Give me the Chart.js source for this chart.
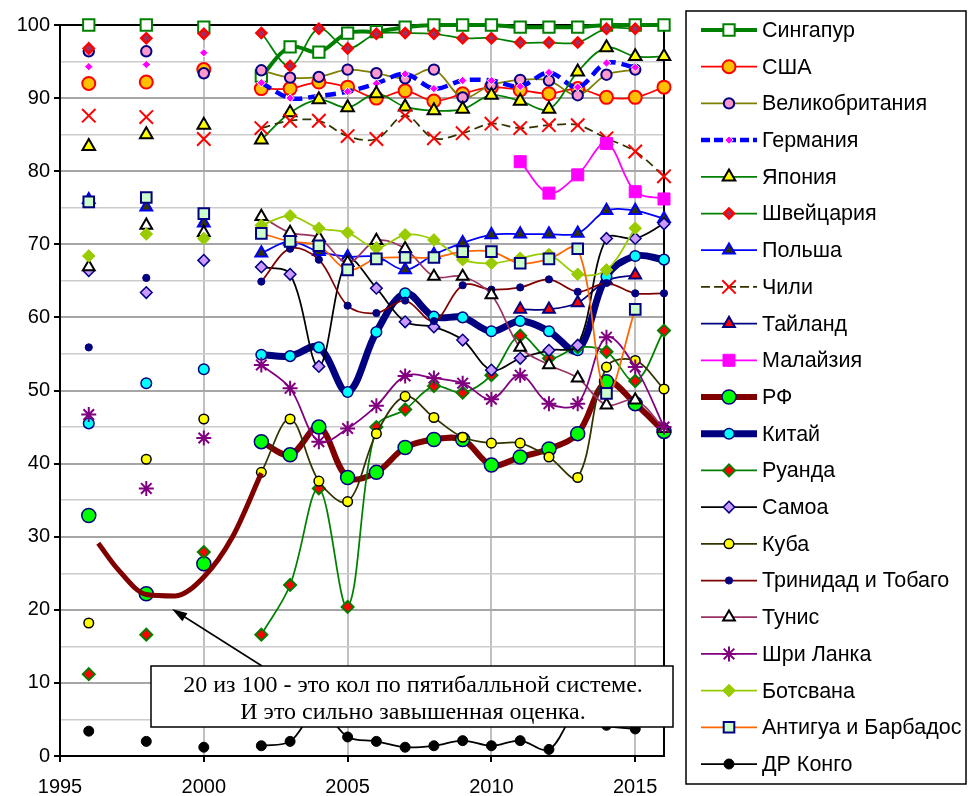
<!DOCTYPE html>
<html>
<head>
<meta charset="utf-8">
<script src="https://cdn.jsdelivr.net/npm/chart.js@4.4.0/dist/chart.umd.min.js"></script>
<style>
  html, body { margin: 0; padding: 0; background: #fff; }
  canvas { display: block; }
</style>
</head>
<body>
<canvas id="chart" width="968" height="796"></canvas>
<script>
// years 1996..2016, gaps in 1997, 1999, 2001
const years = [1996, 1997, 1998, 1999, 2000, 2001, 2002, 2003, 2004, 2005, 2006,
               2007, 2008, 2009, 2010, 2011, 2012, 2013, 2014, 2015, 2016];
const xTicks = [1995, 2000, 2005, 2010, 2015];
const yTicks = [0, 5, 10, 15, 20, 25, 30, 35, 40, 45, 50, 55, 60, 65, 70, 75, 80, 85, 90, 95, 100];

const singapore = [100, null, 100, null, 99.7, null, 93, 97, 96.3, 98.9, 99.1, 99.7, 100, 100, 100, 99.7, 99.7, 99.7, 100, 100, 100];
const usa       = [92, null, 92.2, null, 93.9, null, 91.3, 91.3, 92.2, 91.5, 90, 91, 89.6, 90.6, 91.5, 91.1, 90.6, 91.3, 90.1, 90.1, 91.5];
const uk        = [96.4, null, 96.4, null, 93.4, null, 93.8, 92.8, 92.9, 93.9, 93.4, 92.7, 93.9, 90.1, 91.8, 92.5, 92.4, 90.4, 93.2, 93.9, null];
const germany   = [94.3, null, 94.6, null, 96.2, null, 92.1, 90, 90.3, 90.9, 92, 93.3, 91.3, 92.4, 92.4, 91.6, 93.5, 91.5, 94.8, 94.2, null];
const japan     = [83.4, null, 85, null, 86.3, null, 84.3, 88, 89.8, 88.7, 90.6, 88.8, 88.3, 88.5, 90.4, 89.6, 88.5, 93.6, 96.9, 95.7, 95.7];
const swiss     = [96.8, null, 98.2, null, 98.8, null, 98.9, 94.4, 99.5, 96.8, 98.8, 98.9, 98.8, 98.2, 98.2, 97.6, 97.6, 97.6, 99.5, 99.5, null];
const poland    = [76.1, null, 75.1, null, 72.9, null, 68.8, 70.4, 69, 68.3, 68.3, 66.5, 68.6, 70.2, 71.3, 71.4, 71.4, 71.5, 74.6, 74.6, 73.5];
const chile     = [87.6, null, 87.4, null, 84.4, null, 85.9, 86.9, 86.9, 84.8, 84.4, 87.6, 84.5, 85.2, 86.5, 85.9, 86.3, 86.3, 84.5, 82.7, 79.3];
const thailand  = [null, null, null, null, null, null, null, null, null, null, null, null, null, null, null, 61.1, 61.1, 62, 65, 65.8, null];
const malaysia  = [null, null, null, null, null, null, null, null, null, null, null, null, null, null, null, 81.3, 77, 79.5, 83.8, 77.2, 76.2];
const russia    = [32.9, null, 22.2, null, 26.3, null, 43, 41.2, 45, 38.1, 38.8, 42.2, 43.3, 43.3, 39.8, 40.9, 42, 44.1, 51.2, 48.2, 44.4];
const china     = [45.5, null, 51, null, 52.9, null, 54.9, 54.7, 55.9, 49.8, 58, 63.3, 60.1, 60, 58.1, 59.5, 58.1, 55.5, 65.6, 68.4, 67.9];
const rwanda    = [11.2, null, 16.6, null, 27.9, null, 16.6, 23.4, 36.6, 20.4, 45, 47.4, 50.6, 49.7, 52.1, 57.5, 54.4, 55.9, 55.3, 51.3, 58.2];
const samoa     = [66.4, null, 63.4, null, 67.8, null, 66.9, 65.9, 53.3, 67.9, 64, 59.4, 58.7, 56.9, 52.8, 54.4, 55.5, 56.2, 70.8, 70.8, 72.8];
const cuba      = [18.2, null, 40.6, null, 46.1, null, 38.8, 46.1, 37.6, 34.8, 44.1, 49.2, 46.3, 43.6, 42.8, 42.8, 40.9, 38.1, 53.2, 54.1, 50.2];
const trinidad  = [55.9, null, 65.4, null, null, null, 64.9, 69.4, 67.9, 61.6, 60.6, 62.3, 59.5, 64.4, 63.8, 64.1, 65.2, 63.5, 64.7, 63.3, 63.3];
const tunisia   = [66.9, null, 72.6, null, 71.6, null, 73.8, 71.6, 70.9, 67.5, 70.5, 69.4, 65.6, 65.6, 63.1, 55.9, 53.5, 51.7, 48, 48.7, 44.8];
const srilanka  = [46.7, null, 36.6, null, 43.5, null, 53.5, 50.3, 43, 44.8, 47.9, 52, 51.7, 51, 48.8, 52.1, 48.2, 48.2, 57.3, 53.2, 45];
const botswana  = [68.4, null, 71.4, null, 70.8, null, 72.6, 73.9, 72.2, 71.6, 69.5, 71.3, 70.6, 67.9, 67.4, 68.1, 68.6, 65.9, 66.5, 72.2, null];
const antigua   = [75.8, null, 76.4, null, 74.2, null, 71.5, 70.4, 69.8, 66.5, 68, 68.2, 68.2, 69, 69, 67.4, 68, 69.4, 49.6, 61.1, null];
const congo     = [3.4, null, 2, null, 1.2, null, 1.4, 2, 6.5, 2.6, 2, 1.2, 1.4, 2.1, 1.4, 2.1, 0.9, 6, 4.2, 3.7, null];

// hand drawn RF curve 1996-2002
const trendYears = [1996.33, 1997, 1998, 1999, 2000, 2001, 2002];
const trendVals  = [29.1, 25.6, 22.1, 21.9, 24.5, 30, 38.7];

const FONT = "'Liberation Sans', Arial, sans-serif";

const toXY = arr => years.map((yr, i) => ({ x: yr, y: arr[i] }));

function series(label, data, line, width, style, radius, fill, border, bw, dash) {
    return {
        label: label,
        data: toXY(data),
        borderColor: line,
        borderWidth: width,
        borderDash: dash || [],
        pointStyle: style,
        pointRadius: radius,
        pointBackgroundColor: fill,
        pointBorderColor: border,
        pointBorderWidth: bw,
        tension: 0.35,
        spanGaps: false,
        clip: false,
        fill: false
    };
}

const datasets = [
    series('Сингапур', singapore, '#008000', 4, 'rect', 8, '#ffffff', '#008000', 2),
    series('США', usa, '#ff0000', 1.75, 'circle', 6.5, '#ffc000', '#ff0000', 2),
    series('Великобритания', uk, '#808000', 1.75, 'circle', 5.2, '#ff99cc', '#000080', 2),
    series('Германия', germany, '#0000ff', 4.5, 'rectRot', 4.2, '#ff00ff', '#ffffff', 1, [11, 6]),
    series('Япония', japan, '#008000', 1.75, 'triangle', 7.3, '#ffff00', '#000000', 2),
    series('Швейцария', swiss, '#008000', 1.75, 'rectRot', 5, '#993366', '#ff0000', 2.5),
    series('Польша', poland, '#0000ff', 1.75, 'triangle', 6.8, '#333300', '#0000ff', 2),
    series('Чили', chile, '#333300', 1.75, 'crossRot', 9.5, '#ff0000', '#ff0000', 2, [9, 5]),
    series('Тайланд', thailand, '#000080', 1.75, 'triangle', 6.8, '#ff0000', '#000080', 2),
    series('Малайзия', malaysia, '#ff00ff', 1.75, 'rect', 8.5, '#ff00ff', '#ff00ff', 1),
    series('РФ', russia, '#800000', 6, 'circle', 7, '#00ff00', '#000080', 1.5),
    series('Китай', china, '#000080', 7, 'circle', 5.3, '#00ffff', '#000080', 1.5),
    series('Руанда', rwanda, '#008000', 1.75, 'rectRot', 6, '#ff0000', '#008000', 2),
    series('Самоа', samoa, '#000000', 1.75, 'rectRot', 5.8, '#cc99ff', '#000080', 1.5),
    series('Куба', cuba, '#333300', 1.75, 'circle', 4.8, '#ffff00', '#000000', 1.5),
    series('Тринидад и Тобаго', trinidad, '#800000', 1.75, 'circle', 3.6, '#000080', '#000080', 1),
    series('Тунис', tunisia, '#993366', 1.75, 'triangle', 6.8, '#ffffff', '#000000', 2),
    series('Шри Ланка', srilanka, '#800080', 1.75, 'star', 7.5, '#800080', '#800080', 2),
    series('Ботсвана', botswana, '#99cc00', 1.75, 'rectRot', 6.3, '#99cc00', '#99cc00', 1),
    series('Антигуа и Барбадос', antigua, '#ff6600', 1.75, 'rect', 7.5, '#ccffcc', '#000080', 2),
    series('ДР Конго', congo, '#000000', 1.75, 'circle', 5, '#000000', '#000000', 1)
];

// later series are drawn on top, like in the original
datasets.forEach((d, i) => { d.order = datasets.length - i + 1; });

const trend = {
    label: 'trend',
    data: trendYears.map((yr, i) => ({ x: yr, y: trendVals[i] })),
    borderColor: '#800000',
    borderWidth: 5,
    pointRadius: 0,
    tension: 0.4,
    cubicInterpolationMode: 'monotone',
    clip: false,
    order: 0
};

function drawMarker(ctx, d, x, y) {
    ctx.save();
    ctx.fillStyle = d.pointBackgroundColor;
    ctx.strokeStyle = d.pointBorderColor;
    ctx.lineWidth = d.pointBorderWidth;
    ctx.setLineDash([]);
    Chart.helpers.drawPoint(ctx, {
        pointStyle: d.pointStyle,
        radius: d.pointRadius,
        rotation: 0,
        borderWidth: d.pointBorderWidth
    }, x, y);
    ctx.restore();
}

const framePlugin = {
    id: 'frame',
    beforeDatasetsDraw(chart) {
        const a = chart.chartArea, ctx = chart.ctx;
        ctx.save();
        ctx.strokeStyle = '#000';
        ctx.lineWidth = 2;
        ctx.strokeRect(a.left, a.top, a.right - a.left, a.bottom - a.top);
        ctx.restore();
    }
};

const notePlugin = {
    id: 'note',
    afterDatasetsDraw(chart) {
        const ctx = chart.ctx;
        ctx.save();
        // arrow
        const tx = 172, ty = 609, fx = 262, fy = 666;
        ctx.strokeStyle = '#000';
        ctx.lineWidth = 1.5;
        ctx.beginPath();
        ctx.moveTo(fx, fy);
        ctx.lineTo(tx + 8, ty + 5);
        ctx.stroke();
        const ang = Math.atan2(fy - ty, fx - tx);
        ctx.fillStyle = '#000';
        ctx.beginPath();
        ctx.moveTo(tx, ty);
        ctx.lineTo(tx + 16 * Math.cos(ang - 0.3), ty + 16 * Math.sin(ang - 0.3));
        ctx.lineTo(tx + 16 * Math.cos(ang + 0.3), ty + 16 * Math.sin(ang + 0.3));
        ctx.closePath();
        ctx.fill();
        // box
        ctx.fillStyle = '#fff';
        ctx.fillRect(151, 666, 522, 61);
        ctx.lineWidth = 1.5;
        ctx.strokeRect(151, 666, 522, 61);
        ctx.fillStyle = '#000';
        ctx.font = "24px 'Liberation Serif', 'Times New Roman', serif";
        ctx.textAlign = 'center';
        ctx.textBaseline = 'alphabetic';
        ctx.fillText('20 из 100 - это кол по пятибалльной системе.', 413, 692);
        ctx.fillText('И это сильно завышенная оценка.', 413, 719);
        ctx.restore();
    }
};

const legendPlugin = {
    id: 'sideLegend',
    afterDraw(chart) {
        const ctx = chart.ctx;
        ctx.save();
        ctx.strokeStyle = '#000';
        ctx.lineWidth = 1.5;
        ctx.strokeRect(686, 11, 280, 773);
        ctx.font = '21.5px ' + FONT;
        ctx.textBaseline = 'middle';
        ctx.textAlign = 'left';
        datasets.forEach((d, i) => {
            const y = 30 + i * 36.7;
            ctx.strokeStyle = d.borderColor;
            ctx.lineWidth = d.borderWidth;
            ctx.setLineDash(d.borderDash.length ? [9, 4] : []);
            ctx.beginPath();
            ctx.moveTo(701, y);
            ctx.lineTo(757, y);
            ctx.stroke();
            drawMarker(ctx, d, 729, y);
            ctx.fillStyle = '#000';
            ctx.fillText(d.label, 762, y + 1);
        });
        ctx.restore();
    }
};

new Chart(document.getElementById('chart'), {
    type: 'line',
    data: { datasets: datasets.concat([trend]) },
    options: {
        responsive: false,
        animation: false,
        layout: { padding: { left: 0, top: 25, right: 304, bottom: 0 } },
        plugins: {
            legend: { display: false },
            tooltip: { enabled: false }
        },
        scales: {
            x: {
                type: 'linear',
                min: 1995,
                max: 2016,
                afterBuildTicks: s => { s.ticks = xTicks.map(v => ({ value: v })); },
                afterFit: s => { s.height = 40; },
                grid: {
                    color: c => (c.tick && c.tick.value === 1995) ? 'rgba(0,0,0,0)' : '#c0c0c0',
                    lineWidth: 2,
                    tickColor: '#000',
                    tickLength: 6
                },
                border: { color: '#000', width: 2 },
                ticks: {
                    color: '#000',
                    font: { family: FONT, size: 20 },
                    padding: 13,
                    maxRotation: 0,
                    autoSkip: false,
                    callback: v => String(v)
                }
            },
            y: {
                min: 0,
                max: 100,
                afterBuildTicks: s => { s.ticks = yTicks.map(v => ({ value: v })); },
                afterFit: s => { s.width = 60; },
                grid: {
                    color: c => {
                        const v = c.tick ? c.tick.value : 0;
                        if (v === 0 || v === 100) return 'rgba(0,0,0,0)';
                        return v % 10 === 0 ? '#a6a6a6' : '#cccccc';
                    },
                    lineWidth: c => (c.tick && c.tick.value % 10 === 0) ? 2 : 1.5,
                    tickColor: c => (c.tick && c.tick.value % 10 === 0) ? '#000' : 'rgba(0,0,0,0)',
                    tickLength: 6
                },
                border: { color: '#000', width: 2 },
                ticks: {
                    color: '#000',
                    font: { family: FONT, size: 20 },
                    padding: 4,
                    autoSkip: false,
                    callback: v => (v % 10 === 0 ? v : '')
                }
            }
        }
    },
    plugins: [framePlugin, notePlugin, legendPlugin]
});
</script>
</body>
</html>
